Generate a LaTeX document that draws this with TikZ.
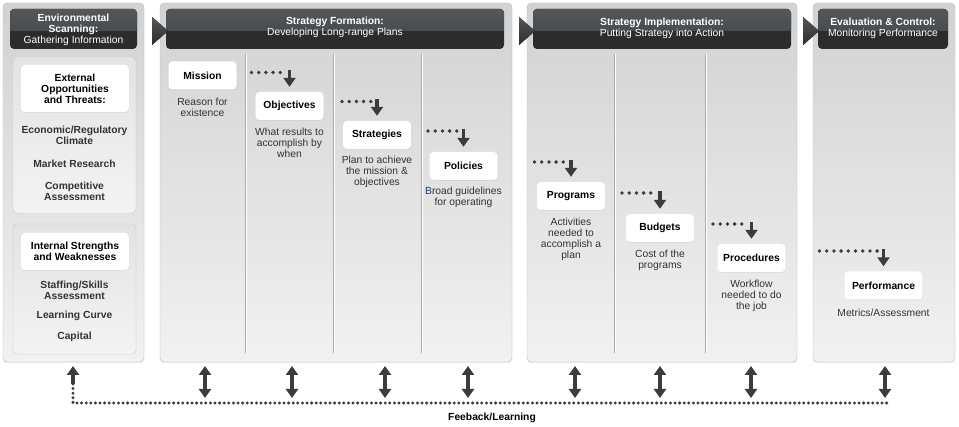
\documentclass[tikz,border=0pt]{standalone}
\usepackage{fontspec}
\setmainfont{Liberation Sans}
\usepackage{tikz}
\usetikzlibrary{arrows.meta}
\usetikzlibrary{shadows}
\usepackage{xcolor}
\definecolor{panelTop}{HTML}{D2D2D2}
\definecolor{panelBot}{HTML}{F1F1F1}
\definecolor{panelLine}{HTML}{BEBEBE}
\definecolor{subTop}{HTML}{E3E3E3}
\definecolor{subBot}{HTML}{F3F3F3}
\definecolor{headTop}{HTML}{53575B}
\definecolor{headBot}{HTML}{2C2C2C}
\definecolor{arrowGray}{HTML}{3C3C3C}
\definecolor{itemGray}{HTML}{333333}
\definecolor{navyB}{HTML}{1F3F7F}
\newcommand{\fsz}{\fontsize{10.3}{11}\selectfont}

\begin{document}
\begin{tikzpicture}[x=1pt, y=-1pt,
  panel/.style={draw=panelLine, top color=panelTop, bottom color=panelBot, rounded corners=4pt,
    drop shadow={opacity=0.15, shadow xshift=0pt, shadow yshift=-1pt}},
  subpanel/.style={draw=panelLine!85, top color=subTop, bottom color=subBot, rounded corners=4pt},
  header/.style={fill=headBot, rounded corners=4pt},
  gloss/.style={top color=headTop, bottom color=headTop!75!headBot},
  wedge/.style={top color=headTop, bottom color=headBot},
  headtext/.style={white, align=center, inner sep=0pt, font=\fsz},
  box/.style={fill=white, rounded corners=4pt, minimum width=68pt, minimum height=28pt, font=\fsz\bfseries,
    drop shadow={opacity=0.1, shadow xshift=0.5pt, shadow yshift=-0.8pt}},
  desc/.style={text=itemGray, align=center, inner sep=0pt, font=\fsz},
  item/.style={text=itemGray, align=center, inner sep=0pt, font=\fsz\bfseries},
  dots/.style={arrowGray, line width=3.8pt, line cap=round, dash pattern=on 0pt off 7.2pt, shorten >=6pt},
  fbdots/.style={arrowGray, line width=3.3pt, line cap=round, dash pattern=on 0pt off 4.6pt},
  downarrow/.style={arrowGray, line width=3.8pt, -{Triangle[width=12pt,length=9pt]}, shorten >=5pt},
  bothways/.style={arrowGray, line width=3.8pt, {Triangle[width=12pt,length=9pt]}-{Triangle[width=12pt,length=9pt]}},
  divider/.style={gray!65, line width=0.7pt}]
\useasboundingbox (0,0) rectangle (959,427);

\draw [panel] (3,3) rectangle (144,362);
\draw [panel] (160,3) rectangle (512,362);
\draw [panel] (527,3) rectangle (797,362);
\draw [panel] (813,3) rectangle (955,362);
\draw [subpanel] (13,57) rectangle (136,213);
\draw [subpanel] (13,224) rectangle (136,354);

\foreach \cx in {245,333,421,614,705} {
  \draw [divider] (\cx,54) -- (\cx,353);
  \draw [white, line width=0.7pt] (\cx+0.9,54) -- (\cx+0.9,353);
}

\foreach \ha/\hb in {10/137,166/504,533/791,818/948} {
  \fill [header] (\ha,9) rectangle (\hb,49);
  \begin{scope}
    \clip [rounded corners=4pt] (\ha,9) rectangle (\hb,49);
    \fill [gloss] (\ha,9) rectangle (\hb,31);
  \end{scope}
}
\foreach \ta in {152,519,803}
  \fill [wedge] (\ta,17) -- (\ta+16,31) -- (\ta,45) -- cycle;

\node [headtext] (scan) at (73.5,30) {\textbf{Environmental}\\\textbf{Scanning:}\\Gathering Information};
\node [headtext] (form) at (335,27.5) {\textbf{Strategy Formation:}\\Developing Long-range Plans};
\node [headtext] (impl) at (662,28.5) {\textbf{Strategy Implementation:}\\Putting Strategy into Action};
\node [headtext] (eval) at (883,28.5) {\textbf{Evaluation \& Control:}\\Monitoring Performance};

\node [box, align=center, minimum width=108pt, minimum height=47pt] (external) at (75,88.5) {External\\Opportunities\\and Threats:};
\node [item] (econ) at (74.5,135.5) {Economic/Regulatory\\Climate};
\node [item] (market) at (74.5,164) {Market Research};
\node [item] (compet) at (74.5,191.5) {Competitive\\Assessment};
\node [box, align=center, minimum width=108pt, minimum height=37pt] (internal) at (75,251.5) {Internal Strengths\\and Weaknesses};
\node [item] (staff) at (74.5,290.5) {Staffing/Skills\\Assessment};
\node [item] (learn) at (74.5,316) {Learning Curve};
\node [item] (capital) at (74.5,337) {Capital};

\node [box] (mission) at (202.5,75.5) {Mission};
\node [desc] (missiontxt) at (202.5,107.5) {Reason for\\existence};
\node [box] (objectives) at (289.5,106) {Objectives};
\node [desc] (objectivestxt) at (289.5,143) {What results to\\accomplish by\\when};
\node [box] (strategies) at (377,135) {Strategies};
\node [desc] (strategiestxt) at (377,172) {Plan to achieve\\the mission \&\\objectives};
\node [box] (policies) at (463.5,166) {Policies};
\node [desc] (policiestxt) at (463.5,197.5) {\textcolor{navyB}{B}road guidelines\\for operating};
\node [box] (programs) at (571,196) {Programs};
\node [desc] (programstxt) at (571,239.5) {Activities\\needed to\\accomplish a\\plan};
\node [box] (budgets) at (660,228) {Budgets};
\node [desc] (budgetstxt) at (660,260.5) {Cost of the\\programs};
\node [box] (procedures) at (751.5,258) {Procedures};
\node [desc] (procedurestxt) at (751.5,296) {Workflow\\needed to do\\the job};
\node [box, minimum width=78pt] (performance) at (883.5,285.5) {Performance};
\node [desc] (performancetxt) at (883.5,312.5) {Metrics/Assessment};

\coordinate (objdots) at (251.5,72.5);
\coordinate (stradots) at (342,101.5);
\coordinate (polidots) at (428,131);
\coordinate (progdots) at (534.5,162);
\coordinate (budgdots) at (622,193);
\coordinate (procdots) at (713,224);
\coordinate (perfdots) at (819.5,251);
\foreach \d/\n in {objdots/objectives, stradots/strategies, polidots/policies, progdots/programs,
    budgdots/budgets, procdots/procedures, perfdots/performance} {
  \draw [dots] (\d) -- (\d -| \n);
  \draw [downarrow] (\d -| \n) ++(0,-2) -- (\n);
}

\foreach \ax [count=\i] in {205,292,385,468,575,660,751,885} {
  \coordinate (up\i) at (\ax,366);
  \coordinate (dn\i) at (\ax,398);
  \draw [bothways] (up\i) -- (dn\i);
}
\coordinate (fbtip) at (73,366);
\coordinate (fbtop) at (73,384);
\coordinate (fbcorner) at (73,403);
\coordinate (fbend) at (887,403);
\draw [downarrow, shorten >=0pt] (fbtop) -- (fbtip);
\draw [fbdots] (fbtop) -- (fbcorner) -- (fbend);
\node [item, text=black] (feedback) at (492,418) {Feeback/Learning};

\end{tikzpicture}
\end{document}
